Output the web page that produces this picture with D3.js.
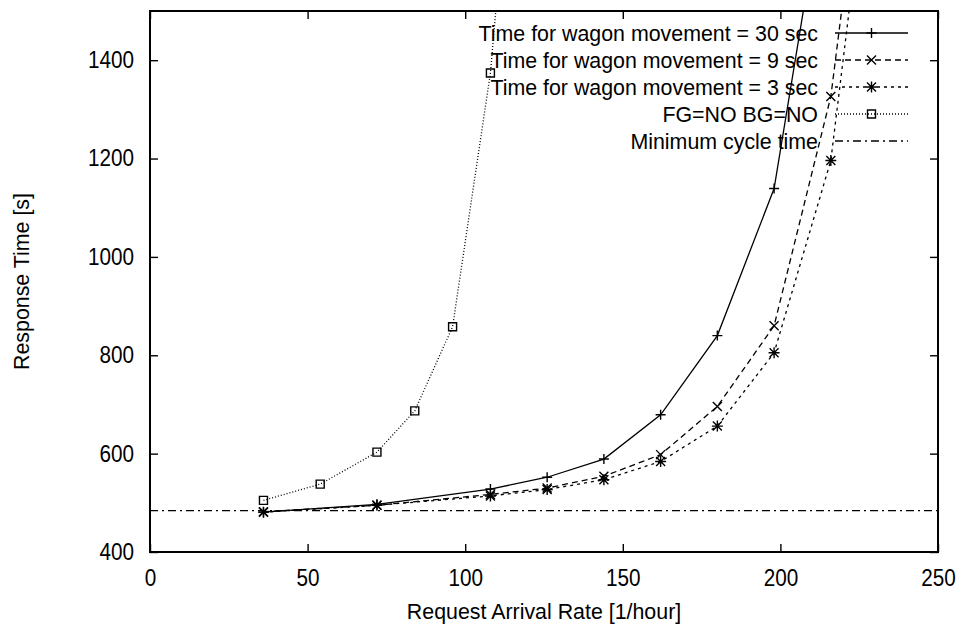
<!DOCTYPE html>
<meta charset="utf-8">
<head>
    <title>Response time vs request arrival rate</title>
</head>
<script src="https://d3js.org/d3.v7.min.js"></script>
<style>
    body { margin: 0; background: #fff; }
    text { font-family: 'Liberation Sans', Arial, Helvetica, sans-serif; font-size: 23px; fill: #000; }
    .frame { fill: none; stroke: #000; stroke-width: 2px; }
    .tick line { stroke: #000; stroke-width: 1.4px; }
    .domain { display: none; }
    .series { fill: none; stroke: #000; stroke-width: 1.3px; }
    .mark { fill: none; stroke: #000; stroke-width: 1.4px; }
</style>
<div id="viz"></div>
<script>
// data
var rate30 = [36, 72, 108, 126, 144, 162, 180, 198, 216];
var resp30 = [481, 497, 528, 552, 589, 679, 840, 1139, 1840];

var rate9 = [36, 72, 108, 126, 144, 162, 180, 198, 216, 234];
var resp9 = [482, 495, 517, 530, 554, 598, 696, 860, 1326, 2245];

var rate3 = [36, 72, 108, 126, 144, 162, 180, 198, 216, 234];
var resp3 = [481, 495, 514, 527, 547, 584, 656, 805, 1196, 2140];

var rateFG = [36, 54, 72, 84, 96, 108, 120];
var respFG = [505, 538, 603, 687, 858, 1374, 2262];

var minCycle = 484;

var xTicks = [0, 50, 100, 150, 200, 250];
var yTicks = [400, 600, 800, 1000, 1200, 1400];

var seriesNames = ['Time for wagon movement = 30 sec', 'Time for wagon movement = 9 sec',
                   'Time for wagon movement = 3 sec', 'FG=NO BG=NO', 'Minimum cycle time'];

var W = 962, H = 637;
var sx = 0.9;    // tick labels, condensed Helvetica in the original
var sxT = 0.93;  // legend and titles
var pLeft = 150, pRight = 938, pTop = 11, pBottom = 552;

var x = d3.scaleLinear().domain([0, 250]).range([pLeft, pRight]);
var y = d3.scaleLinear().domain([400, 1500]).range([pBottom, pTop]);

var svg = d3.select('#viz').append('svg')
    .attr('width', W)
    .attr('height', H);

svg.append('defs').append('clipPath')
    .attr('id', 'plotclip')
  .append('rect')
    .attr('x', pLeft).attr('y', pTop)
    .attr('width', pRight - pLeft).attr('height', pBottom - pTop);

// axes, ticks point inward, mirrored on top and right
var gx = svg.append('g')
    .attr('transform', 'translate(0,' + pBottom + ')')
    .call(d3.axisBottom(x).tickValues(xTicks).tickSize(-8).tickPadding(18).tickFormat(d3.format('d')));
gx.selectAll('text').attr('transform', 'scale(' + sx + ',1)');

svg.append('g')
    .attr('transform', 'translate(0,' + pTop + ')')
    .call(d3.axisTop(x).tickValues(xTicks).tickSize(-8).tickFormat(''));

var gy = svg.append('g')
    .attr('transform', 'translate(' + pLeft + ',0)')
    .call(d3.axisLeft(y).tickValues(yTicks).tickSize(-8).tickPadding(16).tickFormat(d3.format('d')));
gy.selectAll('text')
    .attr('x', -16 / sx)
    .attr('transform', 'scale(' + sx + ',1)');

svg.append('g')
    .attr('transform', 'translate(' + pRight + ',0)')
    .call(d3.axisRight(y).tickValues(yTicks).tickSize(-8).tickFormat(''));

// marker shapes
function plusPath(cx, cy, r) {
    return 'M' + (cx - r) + ',' + cy + 'H' + (cx + r) + 'M' + cx + ',' + (cy - r) + 'V' + (cy + r);
}
function crossPath(cx, cy, r) {
    return 'M' + (cx - r) + ',' + (cy - r) + 'L' + (cx + r) + ',' + (cy + r) +
           'M' + (cx - r) + ',' + (cy + r) + 'L' + (cx + r) + ',' + (cy - r);
}
function starPath(cx, cy, r) {
    return plusPath(cx, cy, r + 1) + crossPath(cx, cy, r);
}
function squarePath(cx, cy, r) {
    return 'M' + (cx - r) + ',' + (cy - r) + 'h' + (2 * r) + 'v' + (2 * r) + 'h' + (-2 * r) + 'Z';
}

var series = [
    {rates: rate30, resp: resp30, dash: null, mark: function(a, b) { return plusPath(a, b, 5); }},
    {rates: rate9, resp: resp9, dash: '6,4', mark: function(a, b) { return crossPath(a, b, 4.5); }},
    {rates: rate3, resp: resp3, dash: '3,4', mark: function(a, b) { return starPath(a, b, 4.5); }},
    {rates: rateFG, resp: respFG, dash: '1,2', mark: function(a, b) { return squarePath(a, b, 4); }}
];

var plot = svg.append('g').attr('clip-path', 'url(#plotclip)');

// minimum cycle time
plot.append('line')
    .attr('class', 'series')
    .attr('x1', x(0)).attr('x2', x(250))
    .attr('y1', y(minCycle)).attr('y2', y(minCycle))
    .attr('stroke-dasharray', '8,4,2,4');

series.forEach(function(s) {
    var pts = s.rates.map(function(r, i) { return [r, s.resp[i]]; });
    plot.append('path')
        .datum(pts)
        .attr('class', 'series')
        .attr('stroke-dasharray', s.dash)
        .attr('d', d3.line().x(function(d) { return x(d[0]); }).y(function(d) { return y(d[1]); }));
    plot.append('g')
        .selectAll('path')
        .data(pts)
        .enter()
        .append('path')
        .attr('class', 'mark')
        .attr('d', function(d) { return s.mark(x(d[0]), y(d[1])); });
});

// legend
var legX = 818, lineX1 = 835, lineX2 = 908, legY0 = 33, legDy = 27;
seriesNames.forEach(function(name, i) {
    var ly = legY0 + i * legDy;
    svg.append('g')
        .attr('transform', 'translate(' + legX + ',' + ly + ')')
      .append('text')
        .attr('transform', 'scale(' + sxT + ',1)')
        .attr('dy', '0.35em')
        .style('text-anchor', 'end')
        .text(name);
    var dash = i < 4 ? series[i].dash : '8,4,2,4';
    svg.append('line')
        .attr('class', 'series')
        .attr('x1', lineX1).attr('x2', lineX2)
        .attr('y1', ly).attr('y2', ly)
        .attr('stroke-dasharray', dash);
    if (i < 4) {
        svg.append('path')
            .attr('class', 'mark')
            .attr('d', series[i].mark((lineX1 + lineX2) / 2, ly));
    }
});

// frame
svg.append('rect')
    .attr('class', 'frame')
    .attr('x', pLeft).attr('y', pTop)
    .attr('width', pRight - pLeft).attr('height', pBottom - pTop);

// axis titles
svg.append('g')
    .attr('transform', 'translate(' + (pLeft + pRight) / 2 + ',619)')
  .append('text')
    .attr('transform', 'scale(' + sxT + ',1)')
    .style('text-anchor', 'middle')
    .text('Request Arrival Rate [1/hour]');

svg.append('g')
    .attr('transform', 'translate(29,' + (pTop + pBottom) / 2 + ')rotate(-90)')
  .append('text')
    .attr('transform', 'scale(' + sxT + ',1)')
    .style('text-anchor', 'middle')
    .text('Response Time [s]');
</script>
